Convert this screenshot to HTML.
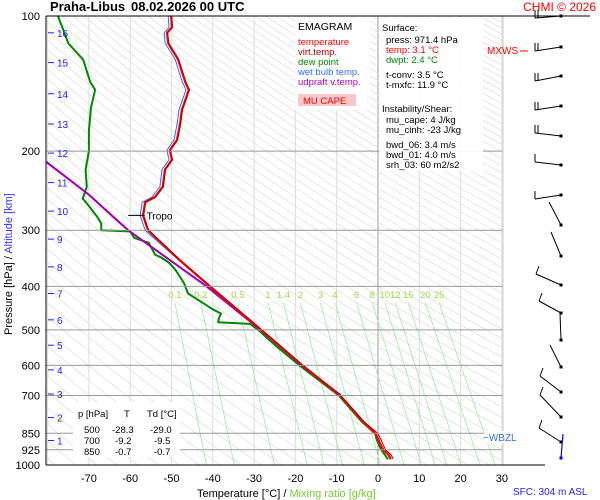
<!DOCTYPE html>
<html><head><meta charset="utf-8"><style>
body{margin:0;background:#fff;}
svg{display:block;font-family:"Liberation Sans",sans-serif;}
</style></head><body>
<svg id="c" width="600" height="500" viewBox="0 0 600 500" xmlns="http://www.w3.org/2000/svg">
<rect width="600" height="500" fill="#fff"/>
<defs><clipPath id="plot"><rect x="46" y="16" width="457" height="449"/></clipPath></defs>
<g id="grid" clip-path="url(#plot)"></g>
<g id="series" clip-path="url(#plot)"></g>
<g id="axes"></g>
<g id="barbs"></g>
<text x="50" y="11" font-size="13" font-weight="bold">Praha-Libus</text>
<text x="131" y="11" font-size="13" font-weight="bold">08.02.2026 00 UTC</text>
<text x="596" y="11" font-size="12" fill="#f00" text-anchor="end">CHMI © 2026</text>
<line x1="46" y1="16" x2="590" y2="16" stroke="#000" stroke-width="1"/>
<g>
<rect x="295" y="17" width="75" height="93" fill="#fff" fill-opacity="0.9"/>
<text x="298" y="30" font-size="10.5">EMAGRAM</text>
<text x="298" y="45" font-size="9.5" fill="#f00">temperature</text>
<text x="298" y="55" font-size="9.5" fill="#a00">virt.temp.</text>
<text x="298" y="65" font-size="9.5" fill="#080">dew point</text>
<text x="298" y="75" font-size="9.5" fill="#3070f0">wet bulb temp.</text>
<text x="298" y="85" font-size="9.5" fill="#b000c0">udpraft v.temp.</text>
<rect x="298" y="94" width="58" height="12" fill="#f8c8c8"/>
<text x="303" y="104" font-size="9.5" fill="#f00">MU CAPE</text>
</g>
<g font-size="9.5">
<rect x="379" y="17" width="104" height="154" fill="#fff" fill-opacity="0.9"/>
<text x="382" y="31">Surface:</text>
<text x="386" y="43">press: 971.4 hPa</text>
<text x="386" y="53" fill="#f00">temp: 3.1 °C</text>
<text x="386" y="63" fill="#080">dwpt: 2.4 °C</text>
<text x="386" y="78">t-conv: 3.5 °C</text>
<text x="386" y="88">t-mxfc: 11.9 °C</text>
<text x="382" y="112">Instability/Shear:</text>
<text x="386" y="123">mu_cape: 4 J/kg</text>
<text x="386" y="133">mu_cinh: -23 J/kg</text>
<text x="386" y="148">bwd_06: 3.4 m/s</text>
<text x="386" y="158">bwd_01: 4.0 m/s</text>
<text x="386" y="168">srh_03: 60 m2/s2</text>
</g>
<g id="tbl" font-size="9.5">
<rect x="73" y="402" width="107" height="55" fill="#fff"/>
<text x="78" y="417">p [hPa]</text><text x="124" y="417">T</text><text x="147" y="417">Td [°C]</text>
<text x="84" y="433">500</text><text x="112" y="433">-28.3</text><text x="150" y="433">-29.0</text>
<text x="84" y="444">700</text><text x="115" y="444">-9.2</text><text x="154" y="444">-9.5</text>
<text x="84" y="455">850</text><text x="115" y="455">-0.7</text><text x="154" y="455">-0.7</text>
</g>
<text x="197" y="497" font-size="11">Temperature [°C]  /  <tspan fill="#7c3">Mixing ratio [g/kg]</tspan></text>
<text transform="translate(12,335) rotate(-90)" font-size="11">Pressure [hPa]  /  <tspan fill="#33f">Altitude [km]</tspan></text>
<text x="513" y="495" font-size="10" fill="#22f">SFC: 304 m ASL</text>
<rect x="484" y="431" width="38" height="12" fill="#fff"/>
<text x="483" y="441" font-size="10" fill="#3070f0">−WBZL</text>
<text x="487" y="54" font-size="10" fill="#f00">MXWS</text>
<line x1="520" y1="51" x2="528" y2="51" stroke="#f00"/>
</svg>
<script>
// data arrays
const tempP=[971,950,925,900,880,850,800,700,600,500,400,350,300,278,260,253,240,220,209,199,189,173,162,146,140,125,115,109,106,100];
const tempT=[3.1,2.6,1.3,0.6,0.2,-0.7,-3.6,-9.2,-18.3,-28.3,-40.7,-48.0,-55.7,-56.9,-56.4,-54.0,-52.1,-51.6,-49.9,-50.4,-48.7,-47.9,-47.5,-45.8,-46.7,-48.4,-50.8,-51.1,-49.9,-50.1];
const dewP=[971,950,925,880,850,800,700,600,550,520,500,485,481,470,460,450,435,415,393,368,355,345,340,320,312,302,300,290,280,265,255,240,220,200,180,160,146,140,125,115,105,100];
const dewT=[2.4,1.7,0.8,-0.3,-0.7,-4.0,-9.5,-19.0,-24.0,-27.0,-29.0,-31.0,-38.7,-38.5,-38.0,-40.0,-42.5,-46.0,-47.0,-49.0,-50.5,-52.5,-54.0,-55.5,-59.0,-60.0,-67.0,-67.0,-68.0,-70.0,-71.5,-70.5,-70.8,-70.0,-70.0,-69.5,-68.5,-69.7,-71.4,-75.0,-76.6,-77.5];
const parcelP=[700,600,500,400,300,250,211,190];
const parcelT=[-9.0,-18.5,-28.5,-41.5,-60.5,-70.0,-80.4,-86.0];
const pressureTicks=[100,200,300,400,500,600,700,850,925,1000];
const tempTicks=[-70,-60,-50,-40,-30,-20,-10,0,10,20,30];
const mixRatios=[0.1,0.2,0.5,1,1.4,2,3,4,6,8,10,12,15,20,25];
const altKm=[1,2,3,4,5,6,7,8,9,10,11,12,13,14,15,16];
const altPressure=[882,784,695,614,541,475,415,362,314,272,235,202,174,149,127,109];
const windY=[16,47,76,106,136,165,195,225,256,285,313,340,367,392,417,442];
const windDx=[-26,-26,-26,-26,-26,-26,-26,-12,-10,-25,-22,-1,-11,-21,-21,-22];
const windDy=[2,4,5,4,-3,-3,4,-23,-24,-11,-12,-27,-22,-16,-22,-14];

const NS='http://www.w3.org/2000/svg';
function X(t){return 378+4.13*t;}
function Y(p){return 16+449*Math.log10(p/100);}
function mk(tag,attrs,parent){const e=document.createElementNS(NS,tag);for(const k in attrs)e.setAttribute(k,attrs[k]);parent.appendChild(e);return e;}
const grid=document.getElementById('grid'),series=document.getElementById('series'),axes=document.getElementById('axes'),barbs=document.getElementById('barbs');

for(let t=-80;t<=40;t+=10){const l=mk('line',{x1:X(t),x2:X(t),y1:16,y2:465,stroke:t===0?'#999':'#ddd','stroke-width':1},grid);

}
for(let th=180;th<=620;th+=5){let d='';for(let p=100;p<=1000;p+=20){const t=th*Math.pow(p/1000,0.286)-273.15;d+=(p===100?'M':'L')+X(t).toFixed(1)+','+Y(p).toFixed(1);}
const a=mk('path',{d:d,fill:'none',stroke:'#e0e0e0','stroke-width':0.8},grid);

}
function tdFromW(w,p){const e=w*p/(622+w);const l=Math.log(e/6.112);return 243.5*l/(17.67-l);}
mixRatios.forEach(w=>{const ln=mk('line',{x1:X(tdFromW(w,435)),y1:Y(435),x2:X(tdFromW(w,1000)),y2:465,stroke:'#9e9','stroke-width':0.8},grid);


const tx=mk('text',{x:X(tdFromW(w,435)),y:298,'font-size':9.5,fill:'#9d4','text-anchor':'middle'},axes);tx.textContent=w;

});
pressureTicks.forEach(p=>{const l=mk('line',{x1:46,x2:503,y1:Y(p),y2:Y(p),stroke:'#999','stroke-width':1},axes);


const t=mk('text',{x:40,y:Y(p)+4,'font-size':11,'text-anchor':'end'},axes);t.textContent=p;

});
mk('line',{x1:503,x2:503,y1:16,y2:465,stroke:'#ccc'},axes);
mk('line',{x1:46,x2:46,y1:16,y2:465,stroke:'#000'},axes);
mk('line',{x1:46,x2:545,y1:465,y2:465,stroke:'#000'},axes);
tempTicks.forEach(t=>{const tx=mk('text',{x:X(t),y:482,'font-size':11,'text-anchor':'middle'},axes);tx.textContent=t;

});
altKm.forEach((k,i)=>{const y=Y(altPressure[i]);mk('line',{x1:48,x2:54,y1:y,y2:y,stroke:'#22f'},axes);
const tx=mk('text',{x:57,y:y+4,'font-size':10,fill:'#22f'},axes);tx.textContent=k;

});
function line(P,T,color,w,off,name){let d='';P.forEach((p,i)=>{d+=(i?'L':'M')+X(T[i]+off(p)).toFixed(1)+','+Y(p).toFixed(1);});
const e=mk('path',{d:d,fill:'none',stroke:color,'stroke-width':w,'stroke-linejoin':'round'},series);

}
line(dewP,dewT,'#080',2,p=>0,'dewpoint-line');
line(parcelP,parcelT,'#a000b0',2,p=>0,'parcel-line');
line(tempP,tempT,'#36f',1,p=>p<320?-0.7:-0.2,'wetbulb-line');
line(tempP,tempT,'#f00',2.2,p=>0,'temperature-line');
line(tempP,tempT,'#a00',1,p=>p>800?0.6:0.15,'virtual-temp-line');
const tr=mk('line',{x1:X(-60.5),x2:X(-56.5),y1:Y(278),y2:Y(278),stroke:'#000'},axes);


const tt=mk('text',{x:X(-56.5)+2,y:Y(278)+4,'font-size':10},axes);tt.textContent='Tropo';


windY.forEach((y,i)=>{const ex=561+windDx[i],ey=y+windDy[i];
const s=mk('line',{x1:561,y1:y,x2:ex,y2:ey,stroke:'#000','stroke-width':1},barbs);


mk('rect',{x:559.5,y:y-1.5,width:3,height:3,fill:'#000'},barbs);
if(Math.abs(windDx[i])>15){if(windDy[i]>-5){mk('line',{x1:ex,y1:ey,x2:ex,y2:ey-8,stroke:'#000'},barbs);if(i<5)mk('line',{x1:ex+3,y1:ey,x2:ex+3,y2:ey-8,stroke:'#000'},barbs);}
else mk('line',{x1:ex,y1:ey,x2:ex+3,y2:ey-8,stroke:'#000'},barbs);}});
mk('line',{x1:561,y1:458,x2:563,y2:434,stroke:'#00f','stroke-width':1.2},barbs);
mk('rect',{x:559.5,y:456.5,width:3,height:3,fill:'#00f'},barbs);
</script>
</body></html>
